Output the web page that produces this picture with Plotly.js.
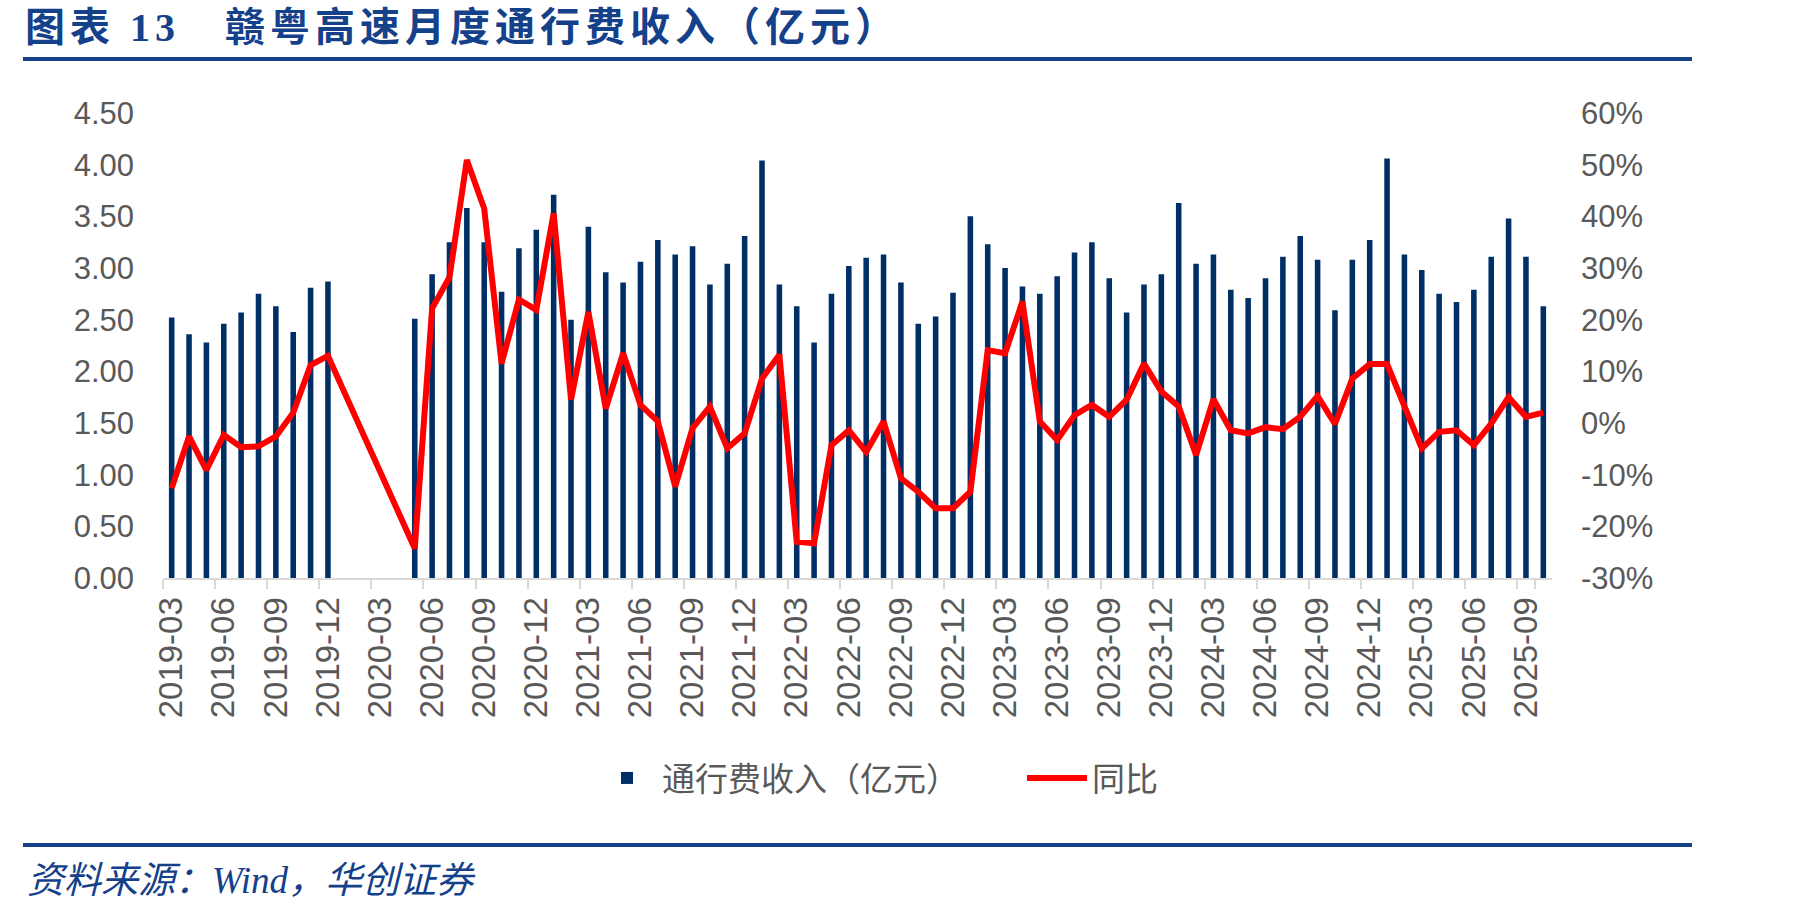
<!DOCTYPE html>
<html>
<head>
<meta charset="utf-8">
<script src="https://cdn.plot.ly/plotly-3.0.1.min.js"></script>
<style>
  html, body { margin: 0; padding: 0; background: #ffffff; }
  #chart { width: 1801px; height: 913px; }
  #chart .gtitle { letter-spacing: 5px; }
</style>
</head>
<body>
<div id="chart"></div>
<script>
// Months (categories)
const months = [
  "2019-03","2019-04","2019-05","2019-06","2019-07","2019-08","2019-09","2019-10","2019-11","2019-12",
  "2020-01","2020-02","2020-03","2020-04","2020-05","2020-06","2020-07","2020-08","2020-09","2020-10","2020-11","2020-12",
  "2021-01","2021-02","2021-03","2021-04","2021-05","2021-06","2021-07","2021-08","2021-09","2021-10","2021-11","2021-12",
  "2022-01","2022-02","2022-03","2022-04","2022-05","2022-06","2022-07","2022-08","2022-09","2022-10","2022-11","2022-12",
  "2023-01","2023-02","2023-03","2023-04","2023-05","2023-06","2023-07","2023-08","2023-09","2023-10","2023-11","2023-12",
  "2024-01","2024-02","2024-03","2024-04","2024-05","2024-06","2024-07","2024-08","2024-09","2024-10","2024-11","2024-12",
  "2025-01","2025-02","2025-03","2025-04","2025-05","2025-06","2025-07","2025-08","2025-09","2025-10"
];

// 通行费收入（亿元）
const tollRevenue = [
  2.52, 2.36, 2.28, 2.46, 2.57, 2.75, 2.63, 2.38, 2.81, 2.87,
  null, null, null, null, 2.51, 2.94, 3.25, 3.58, 3.25, 2.77, 3.19, 3.37,
  3.71, 2.50, 3.40, 2.96, 2.86, 3.06, 3.27, 3.13, 3.21, 2.84, 3.04, 3.31,
  4.04, 2.84, 2.63, 2.28, 2.75, 3.02, 3.10, 3.13, 2.86, 2.46, 2.53, 2.76,
  3.50, 3.23, 3.00, 2.82, 2.75, 2.92, 3.15, 3.25, 2.90, 2.57, 2.84, 2.94,
  3.63, 3.04, 3.13, 2.79, 2.71, 2.90, 3.11, 3.31, 3.08, 2.59, 3.08, 3.27,
  4.06, 3.13, 2.98, 2.75, 2.67, 2.79, 3.11, 3.48, 3.11, 2.63
];

// 同比（%）
const yoyPct = [
  -12.6, -2.6, -9.1, -2.3, -4.7, -4.5, -2.6, 2.0, 11.2, 13.0,
  null, null, null, null, -24.3, 22.2, 28.2, 50.9, 41.5, 11.5, 23.9, 21.9,
  40.6, 4.5, 21.5, 2.8, 13.5, 3.5, 0.3, -12.3, -1.0, 3.2, -4.9, -2.0,
  8.6, 13.2, -23.0, -23.3, -4.3, -1.4, -5.6, 0.3, -10.7, -13.3, -16.5, -16.5,
  -13.3, 14.1, 13.5, 23.5, 0.3, -3.3, 1.5, 3.5, 1.2, 4.5, 11.5, 6.1,
  3.2, -6.2, 4.6, -1.4, -2.0, -0.8, -1.2, 1.2, 5.2, -0.2, 8.6, 11.4,
  11.4, 3.2, -4.9, -1.7, -1.4, -4.3, -0.1, 5.0, 1.2, 2.0
];

// Tick labels
const xTickLabels = [
  "2019-03","2019-06","2019-09","2019-12","2020-03","2020-06","2020-09","2020-12",
  "2021-03","2021-06","2021-09","2021-12","2022-03","2022-06","2022-09","2022-12",
  "2023-03","2023-06","2023-09","2023-12","2024-03","2024-06","2024-09","2024-12",
  "2025-03","2025-06","2025-09"
];
const leftTickVals = [0, 0.5, 1, 1.5, 2, 2.5, 3, 3.5, 4, 4.5];
const rightTickVals = [-30, -20, -10, 0, 10, 20, 30, 40, 50, 60];
const rightTickText = ["-30%","-20%","-10%","0%","10%","20%","30%","40%","50%","60%"];

const titleText = "图表 13　赣粤高速月度通行费收入（亿元）";
const sourceText = "资料来源：Wind，华创证券";
const seriesNames = ["通行费收入（亿元）", "同比"];

const NAVY = "#002f66";
const LABEL = "#595959";
const TEXTFONT = 'Liberation Sans, Arial, "Noto Sans CJK SC", sans-serif';
const HEADFONT = '"Liberation Serif", "Noto Sans CJK SC", serif';
const BLUE = "#15418a";

const traces = [
  {
    type: "bar",
    name: seriesNames[0],
    x: months,
    y: tollRevenue,
    marker: { color: NAVY },
    yaxis: "y",
    hoverinfo: "x+y"
  },
  {
    type: "scatter",
    mode: "lines",
    name: seriesNames[1],
    x: months,
    y: yoyPct,
    connectgaps: true,
    line: { color: "#ff0000", width: 6 },
    yaxis: "y2",
    hoverinfo: "x+y"
  }
];

const layout = {
  width: 1801,
  height: 913,
  paper_bgcolor: "#ffffff",
  plot_bgcolor: "#ffffff",
  margin: { l: 163, r: 249, t: 113, b: 335, pad: 0 },
  bargap: 0.68,
  showlegend: true,
  title: {
    text: titleText,
    font: { family: HEADFONT, size: 40, color: BLUE, weight: "bold" },
    xref: "container", x: 25 / 1801, xanchor: "left",
    yref: "container", y: 1 - 27 / 913, yanchor: "middle"
  },
  font: { family: TEXTFONT, color: LABEL },
  xaxis: {
    type: "category",
    range: [-0.5, 79.5],
    tickmode: "array",
    tickvals: xTickLabels,
    ticktext: xTickLabels,
    tickangle: -90,
    tickson: "boundaries",
    ticks: "outside",
    ticklen: 9,
    tickwidth: 2,
    tickcolor: "#d9d9d9",
    showline: true,
    linecolor: "#d9d9d9",
    linewidth: 2,
    showgrid: false,
    zeroline: false,
    tickfont: { family: TEXTFONT, size: 33, color: LABEL },
    ticklabelstandoff: 4,
    fixedrange: true
  },
  yaxis: {
    range: [0, 4.5],
    tickmode: "array",
    tickvals: leftTickVals,
    tickformat: ".2f",
    showgrid: false,
    zeroline: false,
    showline: false,
    ticks: "",
    tickfont: { family: TEXTFONT, size: 31, color: LABEL },
    ticklabelstandoff: 28,
    fixedrange: true
  },
  yaxis2: {
    overlaying: "y",
    side: "right",
    range: [-30, 60],
    tickmode: "array",
    tickvals: rightTickVals,
    ticktext: rightTickText,
    showgrid: false,
    zeroline: false,
    showline: false,
    ticks: "",
    tickfont: { family: TEXTFONT, size: 31, color: LABEL },
    ticklabelstandoff: 28,
    fixedrange: true
  },
  legend: {
    orientation: "h",
    xref: "container", x: 592 / 1801, xanchor: "left",
    yref: "container", y: 135 / 913, yanchor: "middle",
    font: { family: TEXTFONT, size: 33, color: LABEL },
    itemwidth: 60,
    entrywidth: 355,
    bgcolor: "rgba(0,0,0,0)"
  },
  shapes: [
    { type: "line", xref: "paper", yref: "paper",
      x0: (23 - 163) / 1389, x1: (1692 - 163) / 1389,
      y0: (578 - 59) / 465, y1: (578 - 59) / 465,
      line: { color: BLUE, width: 4 } },
    { type: "line", xref: "paper", yref: "paper",
      x0: (23 - 163) / 1389, x1: (1692 - 163) / 1389,
      y0: (578 - 845) / 465, y1: (578 - 845) / 465,
      line: { color: BLUE, width: 4 } }
  ],
  annotations: [
    { text: "<i>" + sourceText + "</i>", showarrow: false,
      xref: "paper", yref: "paper",
      x: (25 - 163) / 1389, xanchor: "left",
      y: (578 - 880) / 465, yanchor: "middle",
      font: { family: HEADFONT, size: 37, color: BLUE } }
  ]
};

Plotly.newPlot("chart", traces, layout, { displayModeBar: false, responsive: false, staticPlot: true });
</script>
</body>
</html>
